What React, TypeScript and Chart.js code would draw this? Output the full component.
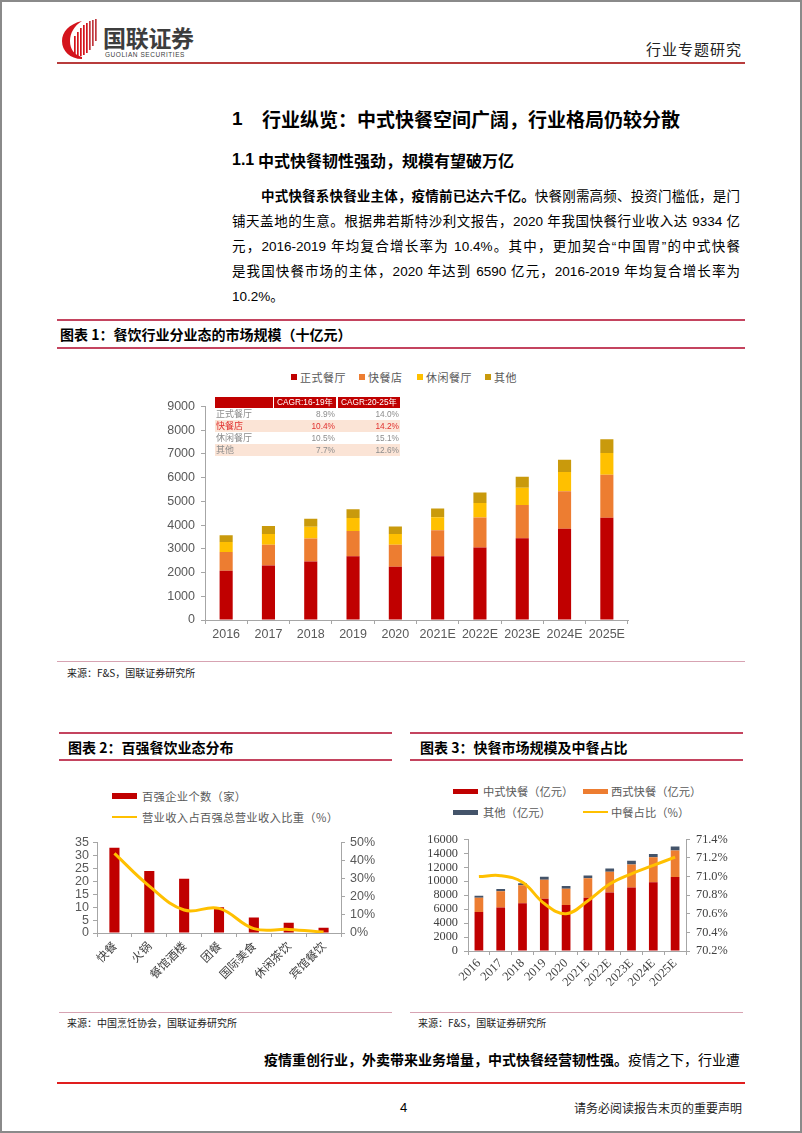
import React, { useEffect, useRef } from "react";
import { Chart, registerables } from "chart.js";
Chart.register(...registerables);

// ---------------- data ----------------
const years = ["2016", "2017", "2018", "2019", "2020", "2021E", "2022E", "2023E", "2024E", "2025E"];

// Chart 1 (十亿元)
const legend1 = ["正式餐厅", "快餐店", "休闲餐厅", "其他"];
const formalDining = [2080, 2300, 2465, 2690, 2245, 2690, 3060, 3450, 3850, 4310];
const fastFoodStore = [790, 870, 970, 1065, 925, 1090, 1260, 1400, 1580, 1815];
const casualDining = [415, 460, 500, 540, 455, 555, 610, 720, 805, 915];
const otherDining = [290, 330, 330, 375, 320, 360, 445, 470, 525, 580];

const cagrHeaders = ["CAGR:16-19年", "CAGR:20-25年"];
const cagrRows = ["正式餐厅", "快餐店", "休闲餐厅", "其他"];
const cagr1619 = ["8.9%", "10.4%", "10.5%", "7.7%"];
const cagr2025 = ["14.0%", "14.2%", "15.1%", "12.6%"];

// Chart 2
const legend2 = ["百强企业个数（家）", "营业收入占百强总营业收入比重（%）"];
const formats = ["快餐", "火锅", "餐馆酒楼", "团餐", "国际美食", "休闲茶饮", "宾馆餐饮"];
const top100Count = [33, 24, 21, 10, 6, 4, 2];
const revenueShare = [44, 25.9, 12.7, 13.6, 2.4, 2, 0.5];

// Chart 3 (亿元)
const legend3 = ["中式快餐（亿元）", "西式快餐（亿元）", "其他（亿元）", "中餐占比（%）"];
const chineseFast = [5580, 6230, 6840, 7490, 6590, 7630, 8370, 9110, 9860, 10600];
const westernFast = [2050, 2330, 2600, 2740, 2340, 2790, 2980, 3300, 3580, 3810];
const otherFast = [280, 320, 260, 420, 400, 420, 460, 510, 470, 560];
const chineseShare = [71.0, 71.01, 70.94, 70.71, 70.6, 70.74, 70.92, 71.03, 71.12, 71.21];

// ---------------- styles ----------------
const SANS = '"Liberation Sans", Arial, "Noto Sans CJK SC", sans-serif';
const SERIF = '"Liberation Serif", "Times New Roman", "Noto Sans CJK SC", serif';
const CJKF = '"Noto Sans CJK SC", sans-serif';
const AXIS = "#A6A6A6";
const RED = "#C00000";
const ORANGE = "#ED7D31";
const YELLOW = "#FFC000";
const GOLD = "#C99A0C";
const SLATE = "#44546A";
const TITLE_LINE = "#C4445F";

const colors1 = [RED, ORANGE, YELLOW, GOLD];

const grid = () => ({ drawOnChartArea: false, drawTicks: true, tickLength: 4, color: AXIS });
const plain = (v: any) => String(v);

function cfg1(): any {
  const series = [formalDining, fastFoodStore, casualDining, otherDining];
  return {
    type: "bar",
    data: {
      labels: years,
      datasets: series.map((d, i) => ({
        label: legend1[i],
        data: d,
        backgroundColor: colors1[i],
        barPercentage: 0.31,
        categoryPercentage: 1,
      })),
    },
    options: {
      responsive: false,
      animation: false,
      devicePixelRatio: 1,
      layout: { padding: { top: 10, right: 12, left: 0, bottom: 0 } },
      plugins: { legend: { display: false }, tooltip: { enabled: false } },
      scales: {
        x: {
          stacked: true,
          grid: { ...grid(), offset: true },
          border: { color: AXIS },
          ticks: { font: { family: SANS, size: 12.5 }, color: "#595959", padding: 3, autoSkip: false, maxRotation: 0 },
          afterFit: (s: any) => { s.height = 30; },
        },
        y: {
          stacked: true,
          min: 0,
          max: 9000,
          grid: grid(),
          border: { color: AXIS },
          ticks: { stepSize: 1000, autoSkip: false, callback: plain, font: { family: SANS, size: 12.5 }, color: "#595959", padding: 6 },
          afterFit: (s: any) => { s.width = 55; },
        },
      },
    },
  };
}

function cfg2(): any {
  return {
    type: "bar",
    data: {
      labels: formats,
      datasets: [
        {
          type: "line",
          label: legend2[1],
          data: revenueShare,
          yAxisID: "y1",
          borderColor: YELLOW,
          borderWidth: 3,
          tension: 0.4,
          pointRadius: 0,
          fill: false,
          order: 0,
        },
        {
          type: "bar",
          label: legend2[0],
          data: top100Count,
          yAxisID: "y",
          backgroundColor: RED,
          barPercentage: 0.29,
          categoryPercentage: 1,
          order: 1,
        },
      ],
    },
    options: {
      responsive: false,
      animation: false,
      devicePixelRatio: 1,
      layout: { padding: { top: 11, right: 0, left: 0, bottom: 0 } },
      plugins: { legend: { display: false }, tooltip: { enabled: false } },
      scales: {
        x: {
          grid: { ...grid(), offset: true },
          border: { color: AXIS },
          ticks: { autoSkip: false, maxRotation: 45, minRotation: 45, font: { family: CJKF, size: 11.5 }, color: "#404040", padding: 2 },
          afterFit: (s: any) => { s.height = 60; },
        },
        y: {
          position: "left",
          min: 0,
          max: 35,
          grid: grid(),
          border: { color: AXIS },
          ticks: { stepSize: 5, autoSkip: false, callback: plain, font: { family: SANS, size: 12.5 }, color: "#595959", padding: 4 },
          afterFit: (s: any) => { s.width = 40; },
        },
        y1: {
          position: "right",
          min: 0,
          max: 50,
          grid: grid(),
          border: { color: AXIS },
          ticks: { stepSize: 10, autoSkip: false, callback: (v: any) => v + "%", font: { family: SANS, size: 12.5 }, color: "#595959", padding: 5 },
          afterFit: (s: any) => { s.width = 56; },
        },
      },
    },
  };
}

function cfg3(): any {
  const series = [chineseFast, westernFast, otherFast];
  const cols = [RED, ORANGE, SLATE];
  return {
    type: "bar",
    data: {
      labels: years,
      datasets: [
        {
          type: "line",
          label: legend3[3],
          data: chineseShare,
          yAxisID: "y1",
          borderColor: YELLOW,
          borderWidth: 3,
          tension: 0.4,
          pointRadius: 0,
          fill: false,
          order: 0,
        },
        ...series.map((d, i) => ({
          type: "bar",
          label: legend3[i],
          data: d,
          yAxisID: "y",
          backgroundColor: cols[i],
          barPercentage: 0.4,
          categoryPercentage: 1,
          order: 1,
        })),
      ],
    },
    options: {
      responsive: false,
      animation: false,
      devicePixelRatio: 1,
      layout: { padding: { top: 10, right: 0, left: 0, bottom: 0 } },
      plugins: { legend: { display: false }, tooltip: { enabled: false } },
      scales: {
        x: {
          stacked: true,
          grid: { ...grid(), offset: true },
          border: { color: AXIS },
          ticks: { autoSkip: false, maxRotation: 45, minRotation: 45, font: { family: SERIF, size: 12.5 }, color: "#404040", padding: 1 },
          afterFit: (s: any) => { s.height = 50; },
        },
        y: {
          stacked: true,
          position: "left",
          min: 0,
          max: 16000,
          grid: grid(),
          border: { color: AXIS },
          ticks: { stepSize: 2000, autoSkip: false, callback: plain, font: { family: SERIF, size: 12.3 }, color: "#404040", padding: 6 },
          afterFit: (s: any) => { s.width = 58; },
        },
        y1: {
          position: "right",
          min: 70.2,
          max: 71.4,
          grid: grid(),
          border: { color: AXIS },
          ticks: { stepSize: 0.2, autoSkip: false, callback: (v: any) => Number(v).toFixed(1) + "%", font: { family: SERIF, size: 12.3 }, color: "#404040", padding: 6 },
          afterFit: (s: any) => { s.width = 59; },
        },
      },
    },
  };
}

// ---------------- layout helpers ----------------
function T(p: { x: number; y: number; size?: number; bold?: boolean; color?: string; right?: boolean; family?: string; spacing?: number; children: any }) {
  const size = p.size ?? 14;
  const lh = Math.round(size * 1.5);
  const st: any = {
    position: "absolute",
    top: p.y - lh / 2,
    lineHeight: lh + "px",
    fontSize: size,
    fontWeight: p.bold ? 700 : 400,
    color: p.color ?? "#000",
    whiteSpace: "nowrap",
    fontFamily: p.family ?? SANS,
    letterSpacing: p.spacing ?? 0,
  };
  if (p.right) st.right = 802 - p.x;
  else st.left = p.x;
  return <div style={st}>{p.children}</div>;
}

function JL(p: { x: number; y: number; w: number; size: number; children: any }) {
  const lh = 22;
  return (
    <div
      style={{
        position: "absolute",
        left: p.x,
        top: p.y - lh / 2,
        width: p.w,
        lineHeight: lh + "px",
        fontSize: p.size,
        fontFamily: SANS,
        color: "#000",
        textAlign: "justify",
        textAlignLast: "justify",
      } as any}
    >
      {p.children}
    </div>
  );
}

function HL(p: { x1: number; x2: number; y: number; h?: number; color: string }) {
  const h = p.h ?? 1;
  return <div style={{ position: "absolute", left: p.x1, top: p.y - h / 2, width: p.x2 - p.x1, height: h, background: p.color }} />;
}

function Box(p: { x: number; y: number; w: number; h: number; color: string }) {
  return <div style={{ position: "absolute", left: p.x, top: p.y, width: p.w, height: p.h, background: p.color }} />;
}

function Logo() {
  const bars = [
    { x: 14, t: 18, b: 39 },
    { x: 17, t: 14, b: 39 },
    { x: 20, t: 10, b: 38 },
    { x: 23, t: 7, b: 37 },
    { x: 26, t: 5, b: 35 },
    { x: 29, t: 3, b: 32 },
    { x: 32, t: 2, b: 28 },
    { x: 35, t: 1, b: 23 },
  ];
  return (
    <svg style={{ position: "absolute", left: 60, top: 18 }} width={42} height={42} viewBox="0 0 42 42">
      <path d="M22 3 C9 6 2 14 2 23 C2 33 10 41 22 41 L22 39 C14 37 10 31 10 23 C10 15 14 8 22 3 Z" fill="#D4141C" />
      {bars.map((b, i) => (
        <rect key={i} x={b.x} y={b.t} width={1.7} height={b.b - b.t} fill={i < 5 ? "#D4141C" : "#C0393F"} />
      ))}
    </svg>
  );
}

export default function App() {
  const r1 = useRef<HTMLCanvasElement>(null);
  const r2 = useRef<HTMLCanvasElement>(null);
  const r3 = useRef<HTMLCanvasElement>(null);

  useEffect(() => {
    const charts = [new Chart(r1.current!, cfg1()), new Chart(r2.current!, cfg2()), new Chart(r3.current!, cfg3())];
    return () => charts.forEach((c) => c.destroy());
  }, []);

  const leg1X = [291, 359, 417, 485];
  const tblCols = [
    { x: 215, w: 58 },
    { x: 274, w: 62 },
    { x: 338, w: 62 },
  ];

  return (
    <div style={{ position: "absolute", left: 0, top: 0, width: 802, height: 1133, background: "#fff", overflow: "hidden", fontFamily: SANS }}>
      {/* header */}
      <Logo />
      <T x={103} y={37} size={23} bold color="#3d3d3d" family={CJKF} spacing={-0.3}>国联证券</T>
      <T x={105} y={55} size={6.5} color="#404040" spacing={0.55}>GUOLIAN SECURITIES</T>
      <T x={742} y={48} size={15} right color="#222" family={CJKF} spacing={1}>行业专题研究</T>
      <HL x1={57} x2={745} y={63} h={2} color="#B83C3C" />

      {/* headings */}
      <T x={232} y={118} size={19} bold family={SANS}>1</T>
      <T x={262} y={118} size={19} bold family={CJKF}>行业纵览：中式快餐空间广阔，行业格局仍较分散</T>
      <T x={232} y={160} size={16} bold family={SANS}>1.1</T>
      <T x={258} y={160} size={16} bold family={CJKF}>中式快餐韧性强劲，规模有望破万亿</T>

      {/* paragraph */}
      <JL x={261} y={197} w={479} size={13.5}>
        <b>中式快餐系快餐业主体，疫情前已达六千亿。</b>快餐刚需高频、投资门槛低，是门
      </JL>
      <JL x={232} y={222} w={508} size={13.5}>铺天盖地的生意。根据弗若斯特沙利文报告，2020 年我国快餐行业收入达 9334 亿</JL>
      <JL x={232} y={247} w={508} size={13.5}>元，2016-2019 年均复合增长率为 10.4%。其中，更加契合“中国胃”的中式快餐</JL>
      <JL x={232} y={272} w={508} size={13.5}>是我国快餐市场的主体，2020 年达到 6590 亿元，2016-2019 年均复合增长率为</JL>
      <T x={232} y={297} size={13.5}>10.2%。</T>

      {/* chart 1 title */}
      <HL x1={57} x2={745} y={320} h={1.5} color={TITLE_LINE} />
      <T x={60} y={334} size={14} bold family={CJKF}>图表 1：餐饮行业分业态的市场规模（十亿元）</T>
      <HL x1={57} x2={745} y={348} h={1.5} color={TITLE_LINE} />

      {/* chart 1 legend */}
      {legend1.map((l, i) => (
        <React.Fragment key={i}>
          <Box x={leg1X[i]} y={374} w={6} h={6} color={colors1[i]} />
          <T x={leg1X[i] + 9} y={377} size={11} color="#595959" family={CJKF} spacing={0.5}>{l}</T>
        </React.Fragment>
      ))}

      <canvas ref={r1} width={490} height={257} style={{ position: "absolute", left: 150, top: 393 }} />

      {/* CAGR table */}
      <Box x={tblCols[0].x} y={397} w={tblCols[0].w} h={11} color={RED} />
      <Box x={tblCols[1].x} y={397} w={tblCols[1].w} h={11} color={RED} />
      <Box x={tblCols[2].x} y={397} w={tblCols[2].w} h={11} color={RED} />
      {cagrHeaders.map((h, i) => (
        <div key={i} style={{ position: "absolute", left: tblCols[i + 1].x, top: 397, width: tblCols[i + 1].w, height: 11, lineHeight: "11px", textAlign: "center", fontSize: 8.3, color: "#fff", fontFamily: SANS }}>{h}</div>
      ))}
      {cagrRows.map((r, i) => {
        const top = 408 + i * 12;
        const c = i === 1 ? "#E0302E" : "#8C8C8C";
        return (
          <React.Fragment key={i}>
            {i % 2 === 1 && <Box x={215} y={top} w={185} h={12} color="#FBE4D6" />}
            <div style={{ position: "absolute", left: 216, top, height: 12, lineHeight: "12px", fontSize: 9, color: c, fontFamily: CJKF }}>{r}</div>
            <div style={{ position: "absolute", left: tblCols[1].x, top, width: tblCols[1].w - 1, textAlign: "right", height: 12, lineHeight: "12px", fontSize: 8.3, color: c, fontFamily: SANS }}>{cagr1619[i]}</div>
            <div style={{ position: "absolute", left: tblCols[2].x, top, width: tblCols[2].w - 1, textAlign: "right", height: 12, lineHeight: "12px", fontSize: 8.3, color: c, fontFamily: SANS }}>{cagr2025[i]}</div>
          </React.Fragment>
        );
      })}

      {/* chart 1 source */}
      <HL x1={57} x2={745} y={661} h={1} color="#D7A3B2" />
      <T x={67} y={672} size={10} family={CJKF} color="#222">来源：F&amp;S，国联证券研究所</T>

      {/* chart 2 */}
      <HL x1={59} x2={392} y={733} h={1.5} color={TITLE_LINE} />
      <T x={68} y={747} size={14} bold family={CJKF}>图表 2：百强餐饮业态分布</T>
      <HL x1={59} x2={392} y={760} h={1.5} color={TITLE_LINE} />

      <Box x={112} y={793} w={25} h={6} color={RED} />
      <T x={142} y={796} size={11.3} color="#595959" family={CJKF} spacing={0.3}>{legend2[0]}</T>
      <Box x={112} y={816} w={25} h={2} color={YELLOW} />
      <T x={142} y={817} size={11.3} color="#595959" family={CJKF} spacing={0.3}>{legend2[1]}</T>

      <canvas ref={r2} width={340} height={163} style={{ position: "absolute", left: 57, top: 830 }} />

      <HL x1={59} x2={392} y={1012} h={1} color="#D7A3B2" />
      <T x={67} y={1022} size={10} family={CJKF} color="#222">来源：中国烹饪协会，国联证券研究所</T>

      {/* chart 3 */}
      <HL x1={410} x2={743} y={733} h={1.5} color={TITLE_LINE} />
      <T x={420} y={747} size={14} bold family={CJKF}>图表 3：快餐市场规模及中餐占比</T>
      <HL x1={410} x2={743} y={760} h={1.5} color={TITLE_LINE} />

      <Box x={453} y={789} w={25} h={5} color={RED} />
      <T x={483} y={791} size={11.3} color="#595959" family={CJKF}>{legend3[0]}</T>
      <Box x={583} y={789} w={25} h={5} color={ORANGE} />
      <T x={611} y={791} size={11.3} color="#595959" family={CJKF}>{legend3[1]}</T>
      <Box x={453} y={810} w={25} h={5} color={SLATE} />
      <T x={483} y={812} size={11.3} color="#595959" family={CJKF}>{legend3[2]}</T>
      <Box x={583} y={811} w={25} h={2} color={YELLOW} />
      <T x={611} y={812} size={11.3} color="#595959" family={CJKF}>{legend3[3]}</T>

      <canvas ref={r3} width={335} height={175} style={{ position: "absolute", left: 410, top: 826 }} />

      <HL x1={410} x2={743} y={1012} h={1} color="#D7A3B2" />
      <T x={418} y={1022} size={10} family={CJKF} color="#222">来源：F&amp;S，国联证券研究所</T>

      {/* bottom text */}
      <T x={740} y={1059} size={14} right family={CJKF}>
        <b>疫情重创行业，外卖带来业务增量，中式快餐经营韧性强。</b>疫情之下，行业遭
      </T>
      <HL x1={57} x2={745} y={1083} h={2} color="#E01E1E" />
      <T x={400} y={1108} size={13} family={SANS}>4</T>
      <T x={742} y={1108} size={12} right family={CJKF} color="#222">请务必阅读报告末页的重要声明</T>

      {/* page frame */}
      <div style={{ position: "absolute", left: 0, top: 0, width: 802, height: 1133, boxSizing: "border-box", border: "2px solid #8a8a8a", pointerEvents: "none" }} />
    </div>
  );
}
